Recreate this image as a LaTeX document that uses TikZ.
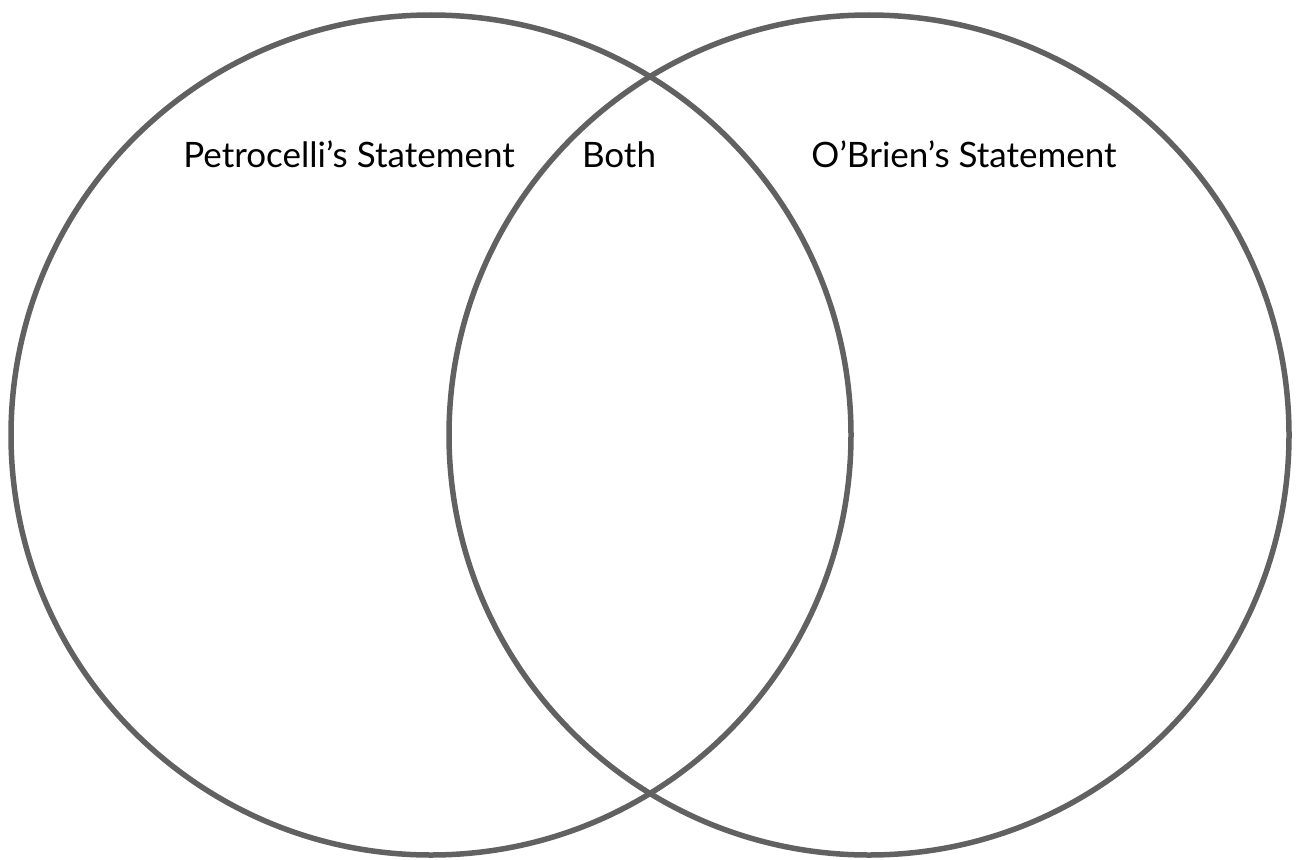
\documentclass[tikz,border=0pt]{standalone}
\usepackage{fontspec}
\setmainfont{Lato}
\usepackage{xcolor}
\usetikzlibrary{positioning}

\definecolor{ringgray}{HTML}{616161}

\begin{document}
\begin{tikzpicture}[
  x=1pt, y=-1pt,
  ring/.style={draw=ringgray, line width=5.5pt, circle, minimum size=840pt, inner sep=0pt},
  lbl/.style={font=\fontsize{35}{38}\selectfont, text=black, inner sep=0pt, anchor=base},
]
  \useasboundingbox (0,0) rectangle (1297,859);

  % Circles
  \node[ring] (left) at (431, 435) {};
  \node[ring] (right) at (869, 435) {};

  % Labels
  \node[lbl] (ltext) at (349, 167) {Petrocelli's Statement};
  \node[lbl] (both) at (619, 167) {Both};
  \node[lbl] (rtext) at (964, 167) {O'Brien's Statement};
\end{tikzpicture}
\end{document}
